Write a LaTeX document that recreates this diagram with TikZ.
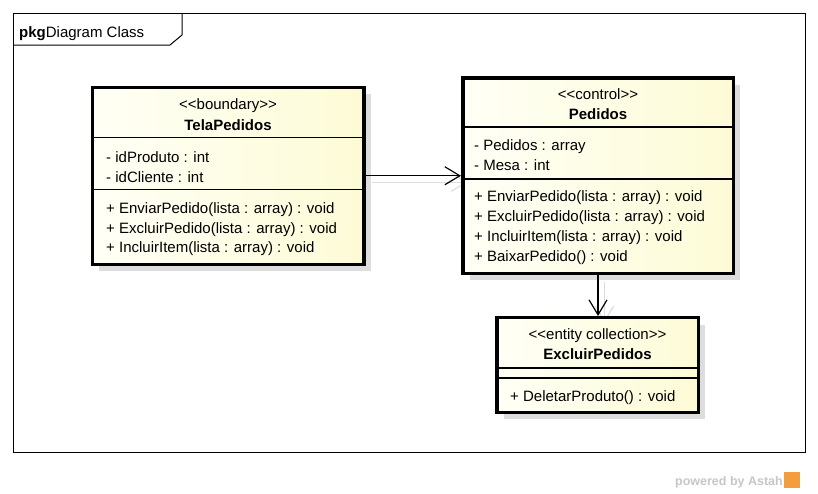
\documentclass[tikz,border=0pt]{standalone}
\usepackage{fontspec}
\setmainfont{Liberation Sans}
\usetikzlibrary{arrows.meta,shadows,backgrounds}
\definecolor{classfill}{RGB}{253,251,214}
\definecolor{classlight}{RGB}{255,255,246}
\definecolor{shadowgray}{RGB}{221,221,221}
\definecolor{astahorange}{RGB}{242,158,62}
\newcommand{\guil}[1]{<\kern0pt<#1>\kern0pt>}

\begin{document}
\begin{tikzpicture}[
  x=1pt,y=-1pt,
  umlclass/.style={draw,line width=3.5pt,inner sep=0pt,left color=classlight,right color=classfill,
    drop shadow={shadow xshift=7pt,shadow yshift=-7pt,fill=shadowgray,opacity=1}},
  stereo/.style={anchor=base,inner sep=0pt,font=\fontsize{15}{18}\selectfont},
  title/.style={anchor=base,inner sep=0pt,font=\fontsize{15}{18}\selectfont\bfseries},
  member/.style={anchor=base west,inner sep=0pt,font=\fontsize{15}{18}\selectfont},
  compartment/.style={line width=1.2pt},
  assoc/.style={-{Straight Barb[length=15pt,width=18pt]},line width=1.2pt},
  assoc shadow/.style={assoc,draw=shadowgray}
]
\useasboundingbox (0,0) rectangle (818,493);

\draw[line width=1pt] (13,13) rectangle (805,452);
\draw[line width=1pt] (13,45) -- (170,45) -- (182,35) -- (182,13);
\node[member] (pkg) at (19,37) {\textbf{pkg}Diagram Class};

\node[umlclass,minimum width=271.5pt,minimum height=177pt] (tp) at (228,175.75) {};
\node[umlclass,minimum width=270.5pt,minimum height=195.5pt] (pd) at (598,175.5) {};
\node[umlclass,minimum width=201.5pt,minimum height=94.75pt] (ex) at (597.5,365.1) {};

\begin{pgfonlayer}{background}
\fill[white] (0,0) rectangle (818,493);
\draw[assoc shadow] ([shift={(6.5,6.5)}]tp.east) -- ([shift={(6.5,6.5)}]tp.east -| pd.west);
\draw[assoc shadow] ([shift={(6.5,6.5)}]pd.south) -- ([shift={(6.5,6.5)}]pd.south |- ex.north);
\end{pgfonlayer}

\draw[compartment] (tp.west |- 0,137.5) -- (tp.east |- 0,137.5);
\draw[compartment] (tp.west |- 0,189.5) -- (tp.east |- 0,189.5);
\node[stereo] (tp-st) at (228,109.5) {\guil{boundary}};
\node[title] (tp-nm) at (228,130.5) {TelaPedidos};
\node[member] (tp-a1) at (106,162.5) {- idProduto : int};
\node[member] (tp-a2) at (106,182.5) {- idCliente : int};
\node[member] (tp-m1) at (106,213.5) {+ EnviarPedido(lista : array) : void};
\node[member] (tp-m2) at (106,233.5) {+ ExcluirPedido(lista : array) : void};
\node[member] (tp-m3) at (106,252.5) {+ IncluirItem(lista : array) : void};

\draw[compartment] (pd.west |- 0,127) -- (pd.east |- 0,127);
\draw[compartment] (pd.west |- 0,179) -- (pd.east |- 0,179);
\node[stereo] (pd-st) at (598,99) {\guil{control}};
\node[title] (pd-nm) at (598,119) {Pedidos};
\node[member] (pd-a1) at (474,150) {- Pedidos : array};
\node[member] (pd-a2) at (474,170) {- Mesa : int};
\node[member] (pd-m1) at (474,201) {+ EnviarPedido(lista : array) : void};
\node[member] (pd-m2) at (474,221) {+ ExcluirPedido(lista : array) : void};
\node[member] (pd-m3) at (474,241) {+ IncluirItem(lista : array) : void};
\node[member] (pd-m4) at (474,261) {+ BaixarPedido() : void};

\draw[compartment] (ex.west |- 0,368) -- (ex.east |- 0,368);
\draw[compartment] (ex.west |- 0,378) -- (ex.east |- 0,378);
\node[stereo] (ex-st) at (597.5,339) {\guil{entity collection}};
\node[title] (ex-nm) at (597.5,359) {ExcluirPedidos};
\node[member] (ex-m1) at (510,401) {+ DeletarProduto() : void};

\draw[assoc] (tp.east) -- (tp.east -| pd.west);
\draw[assoc] (pd.south) -- (pd.south |- ex.north);

\node[anchor=base east,inner sep=0pt,text=black!22,font=\fontsize{12.5}{15}\selectfont\bfseries] (astah) at (783,485) {powered by Astah};
\fill[astahorange] (784,472) rectangle (800,488);
\end{tikzpicture}
\end{document}
